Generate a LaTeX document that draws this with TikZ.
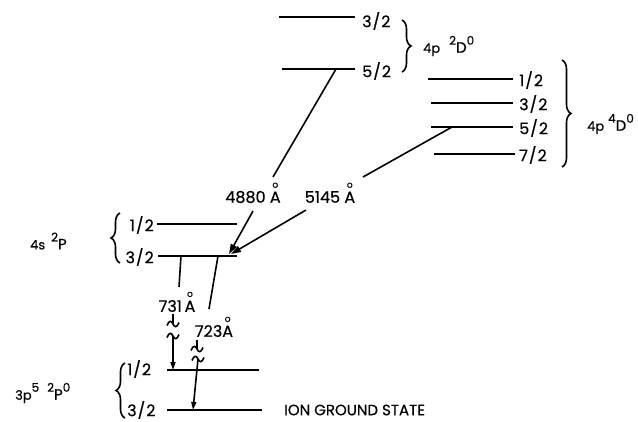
\documentclass[tikz,border=0pt]{standalone}
\usepackage{fontspec}
\setmainfont{Poppins}[FakeBold=0.5]
\usetikzlibrary{decorations.pathreplacing,arrows.meta}
\newcommand\angst{\ooalign{A\cr\hidewidth\raisebox{15pt}{\fontsize{9}{9}\selectfont o}\hidewidth\cr}}
\newcommand\jfs{\fontsize{16}{16}\selectfont}
\newcommand\jv[2]{#1\kern1pt/\kern1pt#2}
\newcommand\tsmall{\fontsize{13}{13}\selectfont}
\newcommand\tbig{\fontsize{15}{15}\selectfont}
\newcommand\tsup[1]{\raisebox{8pt}{\fontsize{12}{12}\selectfont #1}}
\begin{document}
\begin{tikzpicture}[x=1pt,y=-1pt,
  lvl/.style={line width=1.8pt},
  jlab/.style={font=\jfs, inner sep=0pt},
  term/.style={inner sep=0pt, anchor=west},
  wl/.style={font=\jfs, inner sep=0pt},
  tr/.style={line width=1.6pt},
  brc/.style={decorate, decoration={brace, amplitude=9pt}, line width=1.6pt},
  tipa/.style={-{Triangle[length=10pt,width=6.5pt]}},
  tipb/.style={-{Triangle[length=8pt,width=5pt]}},
  brk/.pic={\draw[line width=1.6pt] (-6,1.5) .. controls (-4,-4) and (-1.5,-3.5) .. (0,0) .. controls (1.5,3.5) and (4,4) .. (6,-1.5);}
]
\useasboundingbox (0,0) rectangle (638,421);
% levels 4p 2D0
\coordinate (d32a) at (279,17); \coordinate (d32b) at (355,17);
\coordinate (d52a) at (282,69); \coordinate (d52b) at (355,69);
\draw[lvl] (d32a) -- (d32b); \draw[lvl] (d52a) -- (d52b);
\node[jlab, anchor=west] (jd32) at (362,21) {\jv32};
\node[jlab, anchor=west] (jd52) at (362,71) {\jv52};
\draw[brc] (402,20) -- (402,72);
\node[term] (t2d) at (423,46) {\tsmall 4p\hspace{9pt}\tsup{2}\tbig D\tsup{0}};
% levels 4p 4D0
\coordinate (q12a) at (428,79); \coordinate (q12b) at (513,79);
\coordinate (q32a) at (431,103); \coordinate (q32b) at (513,103);
\coordinate (q52a) at (431,127); \coordinate (q52b) at (513,127);
\coordinate (q72a) at (434,154); \coordinate (q72b) at (515,154);
\draw[lvl] (q12a) -- (q12b); \draw[lvl] (q32a) -- (q32b);
\draw[lvl] (q52a) -- (q52b); \draw[lvl] (q72a) -- (q72b);
\node[jlab, anchor=west] (jq12) at (519,80) {\jv12};
\node[jlab, anchor=west] (jq32) at (519,104) {\jv32};
\node[jlab, anchor=west] (jq52) at (519,128) {\jv52};
\node[jlab, anchor=west] (jq72) at (519,155) {\jv72};
\draw[brc] (562,60) -- (562,167);
\node[term] (t4d) at (587,124) {\tsmall 4p\hspace{4pt}\tsup{4}\tbig D\tsup{0}};
% levels 4s 2P
\coordinate (s12a) at (157,224); \coordinate (s12b) at (237,224);
\coordinate (s32a) at (158,256); \coordinate (s32b) at (237,256);
\draw[lvl] (s12a) -- (s12b); \draw[lvl] (s32a) -- (s32b);
\node[jlab, anchor=east] (js12) at (154,225) {\jv12};
\node[jlab, anchor=east] (js32) at (154,257) {\jv32};
\draw[brc] (120,263) -- (120,213);
\node[term] (t4s) at (30,241) {\tsmall 4s\hspace{6pt}\tsup{2}\tbig P};
% ground
\coordinate (g12a) at (167,370); \coordinate (g12b) at (259,370);
\coordinate (g32a) at (167,410); \coordinate (g32b) at (262,410);
\draw[lvl] (g12a) -- (g12b); \draw[lvl] (g32a) -- (g32b);
\node[jlab, anchor=west] (jg12) at (127,369) {\jv12};
\node[jlab, anchor=west] (jg32) at (127,410) {\jv32};
\draw[brc] (125,418) -- (125,363);
\node[term] (t3p) at (15,393) {\tsmall 3p\tsup{5}\hspace{8pt}\tsup{2}\tbig P\tsup{0}};
\node[anchor=west, inner sep=0pt, font=\fontsize{15}{15}\selectfont] (gs) at (284,410) {ION GROUND STATE};
% 4880
\coordinate (a1) at (336,69); \coordinate (a2) at (273,177);
\coordinate (a3) at (253,211); \coordinate (tip) at (229,254);
\draw[tr] (a1) -- (a2);
\node[wl] (l4880) at (253,197) {4880 \angst};
\draw[tr, tipa] (a3) -- (tip);
% 5145
\coordinate (b1) at (452,127); \coordinate (b2) at (363,177);
\coordinate (b3) at (306,210); \coordinate (tipb) at (231,254);
\draw[tr] (b1) -- (b2);
\node[wl] (l5145) at (330,197) {5145 \angst};
\draw[tr, tipa] (b3) -- (tipb);
% 731
\coordinate (c1) at (181,256); \coordinate (c2) at (179,287);
\node[wl] (l731) at (177,306) {731\,\angst};
\coordinate (c3) at (173,314); \coordinate (c4) at (173,324);
\coordinate (c5) at (173,336); \coordinate (c6) at (173,370);
\draw[tr] (c1) -- (c2);
\draw[tr] (c3) -- (c4);
\pic at (c4) {brk};
\pic at (c5) {brk};
\draw[tr, tipb] (c5) -- (c6);
% 723
\coordinate (e1) at (218,256); \coordinate (e2) at (209,309);
\node[wl] (l723) at (214,331) {723\angst};
\coordinate (e3) at (197,340); \coordinate (e4) at (197,349);
\coordinate (e5) at (198,359); \coordinate (e6) at (193,410);
\draw[tr] (e1) -- (e2);
\draw[tr] (e3) -- (e4);
\pic at (e4) {brk};
\pic at (e5) {brk};
\draw[tr, tipb] (e5) -- (e6);
\end{tikzpicture}
\end{document}
